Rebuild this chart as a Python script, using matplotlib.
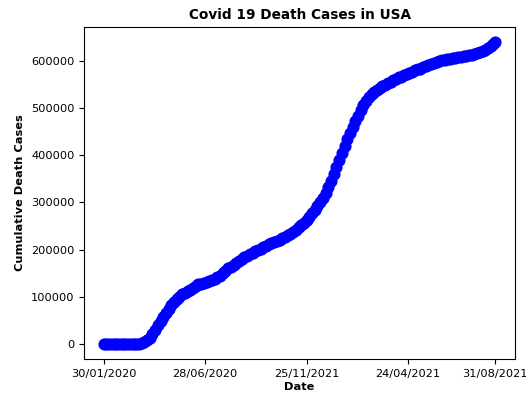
import matplotlib.pyplot as plt

# day offsets from 30/01/2020 (every 4th day, plus the last day 31/08/2021)
days = list(range(0, 577, 4)) + [579]

# cumulative deaths
deaths = [
    0, 0, 0, 0, 0, 0, 0, 0, 6, 14,
    28, 57, 150, 470, 1300, 3100, 7400, 13000, 21000, 30000,
    40000, 49000, 57000, 66000, 75000, 83000, 89000, 95000, 100000, 105000,
    108000, 112000, 115000, 119000, 122000, 126000, 128000, 130000, 132000, 134000,
    136000, 138000, 141000, 145000, 150000, 155000, 160000, 164000, 168000, 172000,
    176000, 180000, 184000, 187000, 190000, 193000, 196000, 199000, 202000, 205000,
    208000, 211000, 213000, 216000, 219000, 221000, 224000, 227000, 231000, 234000,
    238000, 242000, 247000, 252000, 257000, 263000, 270000, 277000, 285000, 293000,
    301000, 310000, 321000, 333000, 346000, 360000, 375000, 390000, 405000, 420000,
    434000, 447000, 459000, 472000, 484000, 496000, 507000, 516000, 524000, 530000,
    535000, 539000, 543000, 547000, 550000, 553000, 556000, 559000, 562000, 565000,
    567000, 570000, 572000, 575000, 577000, 580000, 582000, 584000, 587000, 589000,
    591000, 593000, 595000, 597000, 599000, 601000, 603000, 604000, 605000, 606000,
    607000, 608000, 609000, 610000, 611000, 612000, 613000, 615000, 617000, 619000,
    621000, 624000, 628000, 632000, 637000,
    640000,
]

tick_days = [0, 150, 300, 450, 579]
tick_labels = ['30/01/2020', '28/06/2020', '25/11/2021', '24/04/2021', '31/08/2021']

plt.rcParams['font.size'] = 8.2

fig = plt.figure(figsize=(5.26, 4), dpi=100)
ax = fig.add_axes([0.160, 0.1025, 0.819, 0.83])

# scatter of the cumulative counts
ax.scatter(days, deaths, color='blue', s=60)

ax.set_xticks(tick_days)
ax.set_xticklabels(tick_labels)

ax.set_title('Covid 19 Death Cases in USA', fontweight='bold')
ax.set_xlabel('Date', fontweight='bold', labelpad=2)
ax.set_ylabel('Cumulative Death Cases', fontweight='bold')

fig.savefig('out.png')
